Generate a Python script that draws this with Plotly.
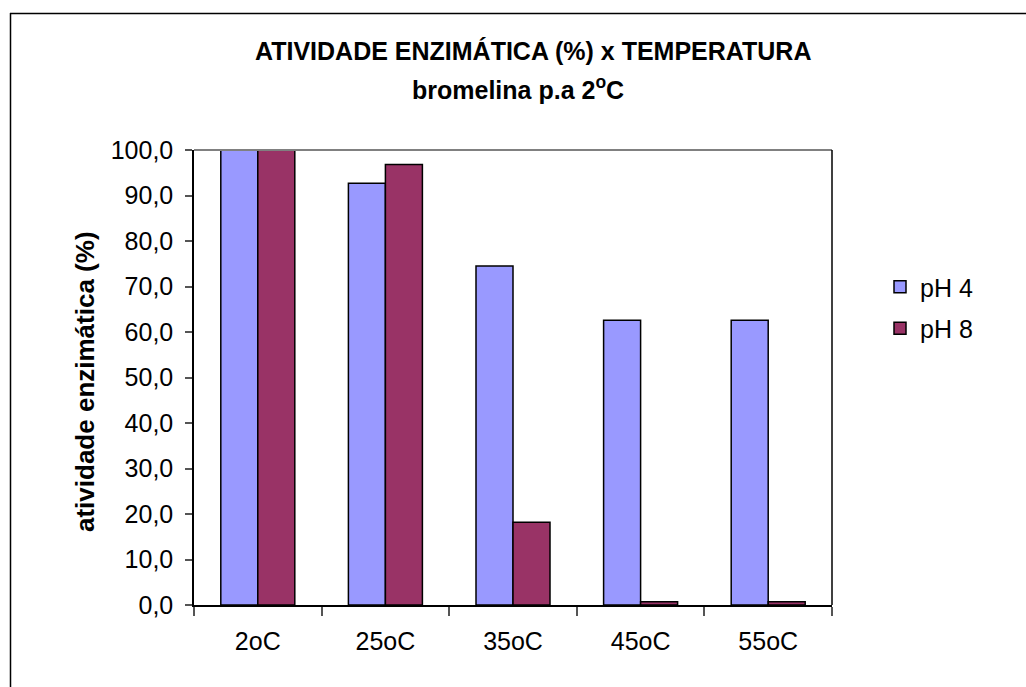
import plotly.graph_objects as go

# Temperaturas ensaiadas e atividade enzimática relativa (%)
categorias = ["2oC", "25oC", "35oC", "45oC", "55oC"]
ph4 = [100.0, 92.7, 74.5, 62.6, 62.6]
ph8 = [100.0, 96.8, 18.2, 0.7, 0.7]

W, H = 1026, 687
L, R, T, B = 194, 832, 150, 605  # área de plotagem em pixels


def px_x(p):
    return (p - L) / (R - L)


def px_y(p):
    return (B - p) / (B - T)


font_family = "Liberation Sans, Arial, sans-serif"

fig = go.Figure()
fig.add_trace(go.Bar(
    x=categorias, y=ph4, name="pH 4", legendgroup="a",
    marker=dict(color="#9999FF", line=dict(color="black", width=1.5)),
))
fig.add_trace(go.Bar(
    x=categorias, y=ph8, name="pH 8", legendgroup="b",
    marker=dict(color="#993366", line=dict(color="black", width=1.5)),
))

fig.update_layout(
    width=W, height=H,
    margin=dict(l=L, r=W - R, t=T, b=H - B, pad=0),
    paper_bgcolor="white", plot_bgcolor="white",
    separators=",.",
    barmode="group", bargap=0.42, bargroupgap=0,
    font=dict(family=font_family, size=25, color="black"),
    showlegend=True,
    legend=dict(
        x=px_x(880), y=px_y(264), xanchor="left", yanchor="top",
        font=dict(size=25), bgcolor="rgba(0,0,0,0)",
        tracegroupgap=6, itemwidth=30,
    ),
    xaxis=dict(
        showline=True, linecolor="black", linewidth=1.5,
        ticks="outside", ticklen=9, tickcolor="#555", tickwidth=1.5,
        tickson="boundaries", showgrid=False, ticklabelstandoff=13,
        tickfont=dict(size=25), zeroline=False,
    ),
    yaxis=dict(
        range=[0, 100], tickvals=list(range(0, 101, 10)), tickformat=".1f",
        showline=True, linecolor="black", linewidth=1.5,
        ticks="outside", ticklen=7, tickcolor="#555", tickwidth=1.5,
        showgrid=False, zeroline=False, tickfont=dict(size=25),
        ticklabelstandoff=7,
    ),
)

# Borda da área de plotagem (topo cinza, direita preta)
fig.add_shape(type="line", xref="paper", yref="paper", x0=0, x1=1, y0=1, y1=1,
              line=dict(color="#808080", width=2))
fig.add_shape(type="line", xref="paper", yref="paper", x0=1, x1=1, y0=0, y1=1,
              line=dict(color="black", width=1.5))

# Moldura externa do gráfico
fig.add_shape(type="line", xref="paper", yref="paper",
              x0=px_x(10.5), x1=px_x(10.5), y0=px_y(13), y1=px_y(700),
              line=dict(color="black", width=1.5))
fig.add_shape(type="line", xref="paper", yref="paper",
              x0=px_x(10), x1=px_x(1040), y0=px_y(13.5), y1=px_y(13.5),
              line=dict(color="black", width=1.5))

# Títulos
fig.add_annotation(text="<b>ATIVIDADE ENZIMÁTICA (%) x TEMPERATURA</b>",
                   xref="paper", yref="paper", x=px_x(533), y=px_y(51),
                   showarrow=False, font=dict(size=25), xanchor="center", yanchor="middle")
fig.add_annotation(text="<b>bromelina p.a 2<sup>o</sup>C</b>",
                   xref="paper", yref="paper", x=px_x(518), y=px_y(88),
                   showarrow=False, font=dict(size=25), xanchor="center", yanchor="middle")
fig.add_annotation(text="<b>atividade enzimática (%)</b>",
                   xref="paper", yref="paper", x=px_x(85), y=px_y(382),
                   showarrow=False, textangle=-90, font=dict(size=26),
                   xanchor="center", yanchor="middle")

fig.write_html("out.html")
